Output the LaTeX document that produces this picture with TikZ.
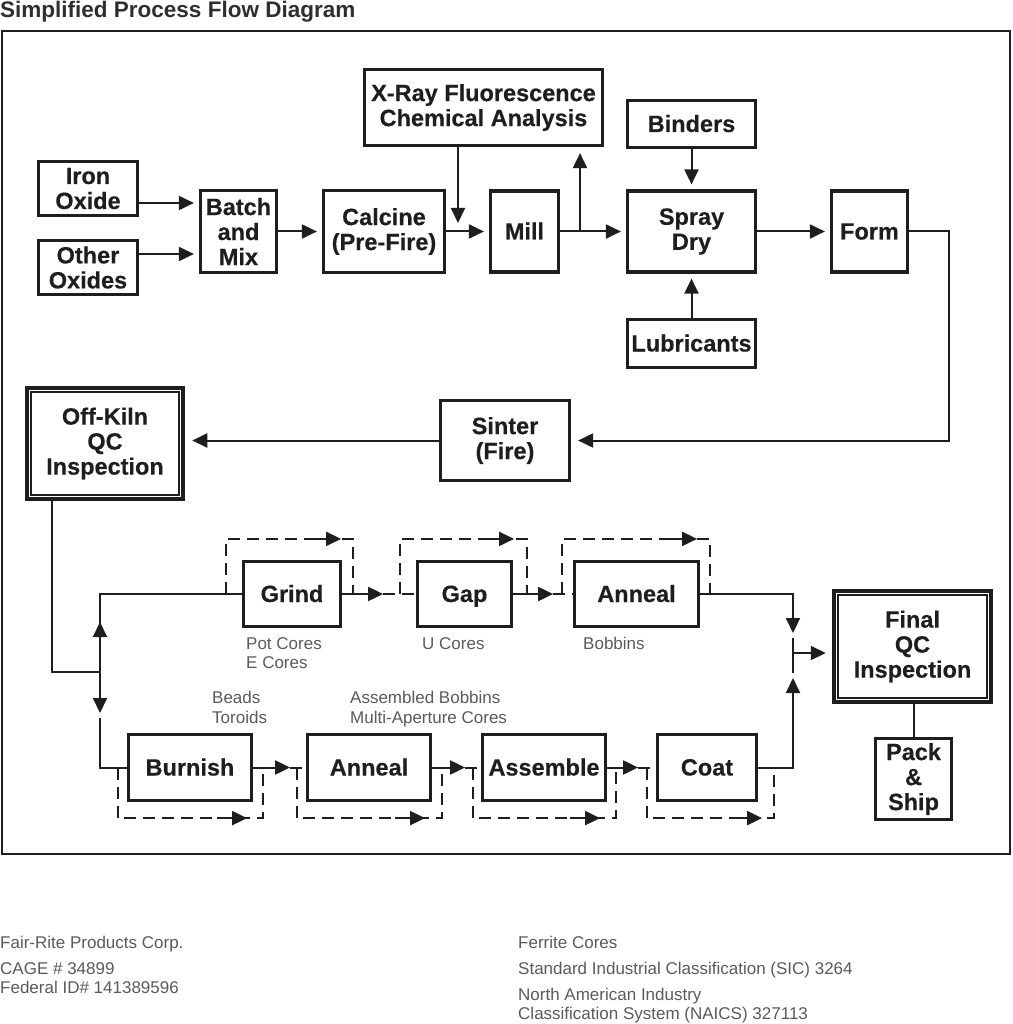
\documentclass[tikz,border=0pt]{standalone}
\usepackage{fontspec}
\setmainfont{Liberation Sans}
\newfontfamily\boxfont{Liberation Sans}[BoldFeatures={FakeBold=0.35}]
\usetikzlibrary{arrows.meta,calc}
\definecolor{ink}{HTML}{1E1E1E}
\definecolor{lab}{HTML}{5A5A5A}
\definecolor{ttl}{HTML}{2E2E2E}
\begin{document}
\begin{tikzpicture}[x=1pt,y=-1pt,
  box/.style={draw=ink,line width=3.2pt,fill=white,inner sep=0pt,align=center,
    font=\boxfont\bfseries\fontsize{23.5}{25}\selectfont,text=ink},
  one/.style={text height=17pt,text depth=1pt},
  dbox/.style={box,line width=4.5pt},
  conn/.style={draw=ink,line width=2pt},
  arr/.style={conn,-{Triangle[length=15pt,width=14pt]},shorten >=5pt},
  tip/.style={conn,-{Triangle[length=15pt,width=14pt]}},
  dline/.style={draw=ink,line width=2pt,dash pattern=on 12pt off 7pt},
  inner/.style={draw=ink,line width=1.6pt},
  lbl/.style={font=\fontsize{17}{19}\selectfont,text=lab,inner sep=0pt,anchor=base west},
  foot/.style={font=\fontsize{17}{19}\selectfont,text=lab,inner sep=0pt,anchor=base west}
]
\useasboundingbox (0,0) rectangle (1012,1024);

% title and frame
\node[anchor=base west,inner sep=0pt,font=\bfseries\fontsize{22.5}{24}\selectfont,text=ttl] (title) at (0,18) {Simplified Process Flow Diagram};
\draw[ink,line width=2.5pt] (2,31) rectangle (1010,854);

% top section boxes
\node[box,minimum width=99pt,minimum height=54pt] (iron) at (88,188.5) {Iron\\Oxide};
\node[box,minimum width=99pt,minimum height=54pt] (other) at (88,267.5) {Other\\Oxides};
\node[box,minimum width=76pt,minimum height=82pt] (batch) at (238.5,231.5) {Batch\\and\\Mix};
\node[box,minimum width=121pt,minimum height=82pt] (calcine) at (384,231.5) {Calcine\\(Pre-Fire)};
\node[box,minimum width=238pt,minimum height=76pt] (xray) at (483.5,107.5) {X-Ray Fluorescence\\Chemical Analysis};
\node[box,one,minimum width=68pt,minimum height=81pt] (mill) at (524.5,231.5) {Mill};
\node[box,one,minimum width=128pt,minimum height=47pt] (binders) at (691.5,124) {Binders};
\node[box,minimum width=128pt,minimum height=81pt] (spray) at (691.5,231.5) {Spray\\Dry};
\node[box,one,minimum width=128pt,minimum height=48pt] (lubr) at (691.5,343.5) {Lubricants};
\node[box,one,minimum width=76pt,minimum height=81pt] (form) at (869.5,231.5) {Form};
\node[box,minimum width=129pt,minimum height=80pt] (sinter) at (505,440.5) {Sinter\\(Fire)};
\node[dbox,minimum width=156pt,minimum height=111pt] (offkiln) at (105,443.5) {Off-Kiln\\QC\\Inspection};
\draw[inner] ([xshift=6pt,yshift=-6pt]offkiln.north west) rectangle ([xshift=-6pt,yshift=6pt]offkiln.south east);

% lower section boxes
\node[box,one,minimum width=97pt,minimum height=65pt] (grind) at (292,594) {Grind};
\node[box,one,minimum width=94pt,minimum height=65pt] (gap) at (464.5,594) {Gap};
\node[box,one,minimum width=124pt,minimum height=65pt] (anneal1) at (636.5,594) {Anneal};
\node[box,one,minimum width=123pt,minimum height=66pt] (burnish) at (190,767.5) {Burnish};
\node[box,one,minimum width=123pt,minimum height=66pt] (anneal2) at (369,767.5) {Anneal};
\node[box,one,minimum width=123pt,minimum height=66pt] (assemble) at (544,767.5) {Assemble};
\node[box,one,minimum width=99pt,minimum height=66pt] (coat) at (707,767.5) {Coat};
\node[dbox,minimum width=157pt,minimum height=111pt] (finalqc) at (912.5,646.5) {Final\\QC\\Inspection};
\draw[inner] ([xshift=6pt,yshift=-6pt]finalqc.north west) rectangle ([xshift=-6pt,yshift=6pt]finalqc.south east);
\node[box,minimum width=76pt,minimum height=81pt] (pack) at (913.5,779) {Pack\\\&\\Ship};

% top connectors
\draw[arr] ([yshift=-14.5pt]iron.east) -- ([yshift=-14.5pt]iron.east -| batch.west);
\draw[arr] ([yshift=13.5pt]other.east) -- ([yshift=13.5pt]other.east -| batch.west);
\draw[arr] (batch.east) -- (calcine.west);
\draw[arr] (calcine.east) -- (mill.west);
\coordinate (xd) at (458,223);
\draw[tip] (xray.south -| xd) -- (xd);
\draw[arr] (mill.east) -- (spray.west);
\coordinate (br) at (580,231.5);
\draw[arr,shorten >=6pt] (br) -- (br |- xray.south);
\draw[arr] (binders.south) -- (spray.north);
\draw[arr] (lubr.north) -- (spray.south);
\draw[arr] (spray.east) -- (form.west);
\coordinate (fc) at (949,440.5);
\draw[arr,shorten >=7pt] (form.east) -| (fc) -- (sinter.east);
\draw[arr,shorten >=7pt] (sinter.west) -- (sinter.west -| offkiln.east);

% split to the two lower rows
\coordinate (ok1) at (52,672);
\coordinate (jn) at (100,672);
\coordinate (up) at (100,622);
\coordinate (dn) at (100,713);
\draw[conn] (offkiln.south -| ok1) -- (ok1) -- (jn);
\draw[conn] (grind.west) -| (jn);
\draw[tip] (jn) -- (up);
\draw[tip] (jn) -- (dn);
\draw[conn] ([yshift=-5pt]dn) |- (burnish.west);

% upper row flow
\draw[tip] (grind.east) -- ([xshift=41pt]grind.east) coordinate (gt1);
\draw[dline] (gt1) -- (gap.west);
\draw[tip] (gap.east) -- ([xshift=40pt]gap.east) coordinate (gt2);
\draw[dline] (gt2) -- (anneal1.west);
% upper bypasses
\draw[dline] ([xshift=-16pt]grind.west) |- ([xshift=11pt,yshift=21pt]grind.north east) -- ([xshift=11pt]grind.east);
\draw[tip] ([xshift=-30pt,yshift=21pt]grind.north east) -- ([xshift=-1pt,yshift=21pt]grind.north east);
\draw[dline] ([xshift=-16pt]gap.west) |- ([xshift=14pt,yshift=21pt]gap.north east) -- ([xshift=14pt]gap.east);
\draw[tip] ([xshift=-30pt,yshift=21pt]gap.north east) -- ([xshift=1pt,yshift=21pt]gap.north east);
\draw[dline] ([xshift=-11pt]anneal1.west) |- ([xshift=10pt,yshift=21pt]anneal1.north east) -- ([xshift=10pt]anneal1.east);
\draw[tip] ([xshift=-30pt,yshift=21pt]anneal1.north east) -- ([xshift=-3pt,yshift=21pt]anneal1.north east);

% lower row flow
\draw[tip] (burnish.east) -- ([xshift=37pt]burnish.east) coordinate (bt1);
\draw[dline] (bt1) -- (anneal2.west);
\draw[tip] (anneal2.east) -- ([xshift=33pt]anneal2.east) coordinate (bt2);
\draw[dline] (bt2) -- (assemble.west);
\draw[tip] (assemble.east) -- ([xshift=31pt]assemble.east) coordinate (bt3);
\draw[dline] (bt3) -- (coat.west);
% lower bypasses
\draw[dline] ([xshift=-9pt]burnish.west) |- ([xshift=10pt,yshift=-16pt]burnish.south east) -- ([xshift=10pt]burnish.east);
\draw[tip] ([xshift=-36pt,yshift=-16pt]burnish.south east) -- ([xshift=-6pt,yshift=-16pt]burnish.south east);
\draw[dline] ([xshift=-9pt]anneal2.west) |- ([xshift=10pt,yshift=-16pt]anneal2.south east) -- ([xshift=10pt]anneal2.east);
\draw[tip] ([xshift=-37pt,yshift=-16pt]anneal2.south east) -- ([xshift=-7pt,yshift=-16pt]anneal2.south east);
\draw[dline] ([xshift=-8pt]assemble.west) |- ([xshift=9pt,yshift=-16pt]assemble.south east) -- ([xshift=9pt]assemble.east);
\draw[tip] ([xshift=-37pt,yshift=-16pt]assemble.south east) -- ([xshift=-7pt,yshift=-16pt]assemble.south east);
\draw[dline] ([xshift=-9pt]coat.west) |- ([xshift=16pt,yshift=-16pt]coat.south east) -- ([xshift=16pt]coat.east);
\draw[tip] ([xshift=-26pt,yshift=-16pt]coat.south east) -- ([xshift=4pt,yshift=-16pt]coat.south east);

% merge into final QC
\coordinate (mx) at (793,653);
\draw[tip] (anneal1.east) -| ([yshift=20pt]mx);
\draw[conn] ([yshift=15pt]mx) -- ([yshift=-20pt]mx);
\draw[arr,shorten >=6pt] (mx) -- (mx -| finalqc.west);
\draw[tip] (coat.east) -| ([yshift=-25pt]mx);
\draw[conn] (finalqc.south -| pack.north) -- (pack.north);

% product labels
\node[lbl] (lpot) at (246,649) {Pot Cores};
\node[lbl] (le) at (246,668) {E Cores};
\node[lbl] (lu) at (422,649) {U Cores};
\node[lbl] (lbob) at (583,649) {Bobbins};
\node[lbl] (lbead) at (212,703) {Beads};
\node[lbl] (ltor) at (212,723) {Toroids};
\node[lbl] (lasb) at (350,703) {Assembled Bobbins};
\node[lbl] (lmac) at (350,723) {Multi-Aperture Cores};

% footer
\node[foot] (f1) at (0,948) {Fair-Rite Products Corp.};
\node[foot] (f2) at (0,974) {CAGE \# 34899};
\node[foot] (f3) at (0,993) {Federal ID\# 141389596};
\node[foot] (f4) at (518,948) {Ferrite Cores};
\node[foot] (f5) at (518,974) {Standard Industrial Classification (SIC) 3264};
\node[foot] (f6) at (518,1000) {North American Industry};
\node[foot] (f7) at (518,1019) {Classification System (NAICS) 327113};
\end{tikzpicture}
\end{document}
